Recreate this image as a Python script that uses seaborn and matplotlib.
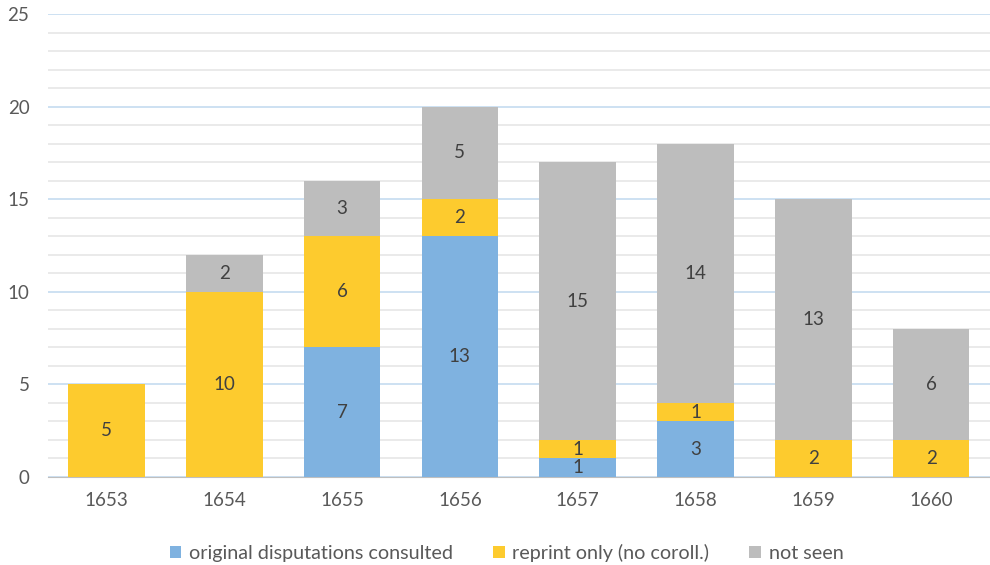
import numpy as np
import pandas as pd
import matplotlib.pyplot as plt
import seaborn as sns
from matplotlib.ticker import MultipleLocator

years = ['1653', '1654', '1655', '1656', '1657', '1658', '1659', '1660']
original = [0, 0, 7, 13, 1, 3, 0, 0]
reprint = [5, 10, 6, 2, 1, 1, 2, 2]
not_seen = [0, 2, 3, 5, 15, 14, 13, 6]

series_names = ['original disputations consulted', 'reprint only (no coroll.)', 'not seen']
colors = ['#7FB2E0', '#FDCB2E', '#BDBDBD']

df = pd.DataFrame({'year': years, series_names[0]: original,
                   series_names[1]: reprint, series_names[2]: not_seen})

sns.set_style('white')
plt.rcParams['font.family'] = ['Lato', 'DejaVu Sans']

fig = plt.figure(figsize=(9.9, 5.65), dpi=100)
ax = fig.add_axes([0.048, 0.156, 0.952, 0.819])

bottom = np.zeros(len(years))
for name, col in zip(series_names, colors):
    vals = df[name].values
    sns.barplot(x=df['year'], y=vals, color=col, bottom=bottom, width=0.65,
                ax=ax, label=name, zorder=3, saturation=1, linewidth=0)
    cont = ax.containers[-1]
    labels = [str(v) if v > 0 else '' for v in vals]
    ax.bar_label(cont, labels=labels, label_type='center', fontsize=13.5, color='#404040')
    bottom = bottom + vals

ax.set_ylim(0, 25)
ax.set_xlim(-0.5, len(years) - 0.5)
ax.yaxis.set_major_locator(MultipleLocator(5))
ax.yaxis.set_minor_locator(MultipleLocator(1))
ax.grid(which='minor', axis='y', color='#E6E6E6', linewidth=1.2, zorder=0)
ax.grid(which='major', axis='y', color='#C5DCF0', linewidth=1.2, zorder=1)
ax.set_axisbelow(True)
for s in ['top', 'right', 'left']:
    ax.spines[s].set_visible(False)
ax.spines['bottom'].set_color('#BFBFBF')
ax.tick_params(axis='both', which='both', length=0, labelsize=13.5, labelcolor='#595959')
ax.tick_params(axis='x', pad=11)
ax.tick_params(axis='y', pad=13)
ax.set_xlabel('')
ax.set_ylabel('')

ax.legend(loc='lower center', bbox_to_anchor=(0.487, -0.222), ncol=3, frameon=False,
          fontsize=14.2, handlelength=0.6, handleheight=0.6, handletextpad=0.4,
          columnspacing=2.0, labelcolor='#595959')

fig.savefig('out.png', dpi=100)
